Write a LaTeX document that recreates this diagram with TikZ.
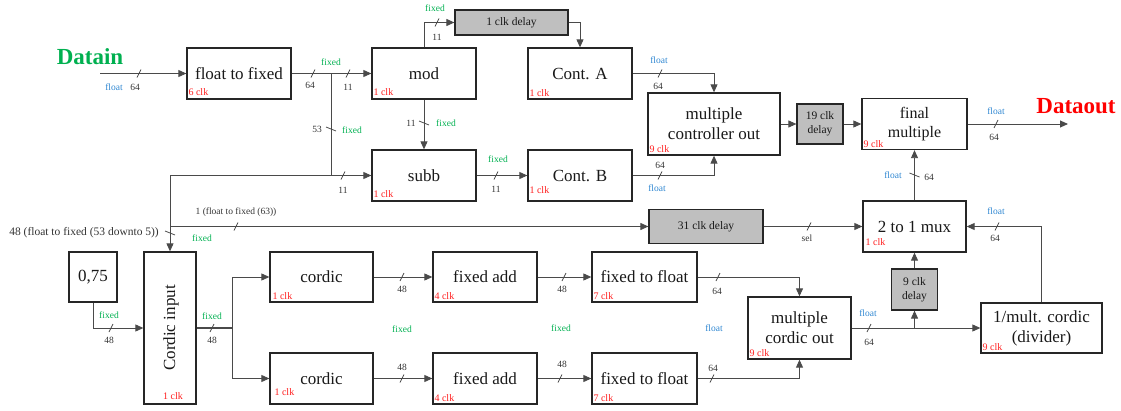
\documentclass[tikz,border=0pt]{standalone}
\usepackage{fontspec}
\setmainfont{Liberation Serif}
\usetikzlibrary{arrows.meta,calc}
\definecolor{fgreen}{HTML}{00B050}
\definecolor{fblue}{HTML}{2E86D1}
\definecolor{fred}{HTML}{FF1F1F}
\definecolor{lin}{HTML}{4A4A4A}
\begin{document}
\begin{tikzpicture}[x=1pt,y=-1pt,
  box/.style={draw=black!85, line width=1.3pt, fill=white, inner sep=0pt, align=center,
    font=\fontsize{17}{20}\selectfont, text=black!90},
  dbox/.style={box, fill=gray!50, line width=1.2pt, font=\fontsize{11.5}{14}\selectfont},
  conn/.style={draw=lin, line width=0.9pt},
  arr/.style={conn, -{Triangle[length=8pt,width=7pt]}},
  lbl/.style={font=\fontsize{9.5}{11}\selectfont, inner sep=0pt, text=black!80},
  fx/.style={lbl, text=fgreen},
  fl/.style={lbl, text=fblue},
  clk/.style={font=\fontsize{10}{12}\selectfont, text=fred, inner sep=0pt, anchor=base west},
  hs/.pic={\draw[lin, line width=0.8pt] (-2,4) -- (2,-4);},
  vs/.pic={\draw[lin, line width=0.8pt] (-5,-2) -- (5,2);}
]
\useasboundingbox (0,0) rectangle (1121,410);

% boxes
\node[box, minimum width=104pt, minimum height=51pt] (f2f) at (239,73.5) {float to fixed};
\node[box, minimum width=104pt, minimum height=51pt] (mod) at (424,73.5) {mod};
\node[box, minimum width=104pt, minimum height=51pt] (subb) at (424,175.5) {subb};
\node[box, minimum width=104pt, minimum height=51pt] (contA) at (580,73.5) {Cont. A};
\node[box, minimum width=104pt, minimum height=51pt] (contB) at (580,175.5) {Cont. B};
\node[dbox, minimum width=113pt, minimum height=25pt] (d1) at (511.5,22.5) {1 clk delay};
\node[box, minimum width=132pt, minimum height=62pt] (mco) at (714,124) {multiple\\controller out};
\node[dbox, minimum width=46pt, minimum height=40pt] (d19) at (820,124) {19 clk\\delay};
\node[box, minimum width=105pt, minimum height=51pt, font=\fontsize{16}{19}\selectfont] (fm) at (914.5,124) {final\\multiple};
\node[box, minimum width=103pt, minimum height=51pt] (mux) at (914.5,226.5) {2 to 1 mux};
\node[dbox, minimum width=114pt, minimum height=34pt] (d31) at (706,226.5) {31 clk delay};
\node[box, minimum width=52pt, minimum height=152pt] (ci) at (170,328) {};
\node[rotate=90, inner sep=0pt, font=\fontsize{17}{20}\selectfont, text=black!90] (citxt) at (171,328) {Cordic input};
\node[box, minimum width=48pt, minimum height=50pt] (c075) at (93,277) {0,75};
\node[box, minimum width=103pt, minimum height=50pt] (cor1) at (321.5,277) {cordic};
\node[box, minimum width=103pt, minimum height=51pt] (cor2) at (321.5,378.5) {cordic};
\node[box, minimum width=104pt, minimum height=50pt] (fa1) at (485,277) {fixed add};
\node[box, minimum width=104pt, minimum height=51pt] (fa2) at (485,378.5) {fixed add};
\node[box, minimum width=105pt, minimum height=50pt] (ff1) at (644.5,277) {fixed to float};
\node[box, minimum width=105pt, minimum height=51pt] (ff2) at (644.5,378.5) {fixed to float};
\node[box, minimum width=103pt, minimum height=62pt] (mcoc) at (799.5,328) {multiple\\cordic out};
\node[dbox, minimum width=46pt, minimum height=41pt] (d9) at (914.5,289.5) {9 clk\\delay};
\node[box, minimum width=121pt, minimum height=50pt] (div) at (1041.5,328) {1/mult. cordic\\(divider)};

% clk labels
\node[clk] (k1) at ($(f2f.south west)+(2,-4)$) {6 clk};
\node[clk] (k2) at ($(mod.south west)+(2,-4)$) {1 clk};
\node[clk] (k3) at ($(subb.south west)+(2,-4)$) {1 clk};
\node[clk] (k4) at ($(contA.south west)+(2,-3)$) {1 clk};
\node[clk] (k5) at ($(contB.south west)+(2,-8)$) {1 clk};
\node[clk] (k6) at ($(mco.south west)+(2,-3)$) {9 clk};
\node[clk] (k7) at ($(fm.south west)+(2,-3)$) {9 clk};
\node[clk] (k8) at ($(mux.south west)+(3,-7)$) {1 clk};
\node[clk, anchor=base] (k9) at ($(ci.south)+(3,-5)$) {1 clk};
\node[clk] (k10) at ($(cor1.south west)+(3,-3)$) {1 clk};
\node[clk] (k11) at ($(cor2.south west)+(5,-9)$) {1 clk};
\node[clk] (k12) at ($(fa1.south west)+(2,-3)$) {4 clk};
\node[clk] (k13) at ($(fa2.south west)+(2,-3)$) {4 clk};
\node[clk] (k14) at ($(ff1.south west)+(2,-3)$) {7 clk};
\node[clk] (k15) at ($(ff2.south west)+(2,-3)$) {7 clk};
\node[clk] (k16) at ($(mcoc.south west)+(2,-3)$) {9 clk};
\node[clk] (k17) at ($(div.south west)+(2,-3)$) {9 clk};

% titles
\node[inner sep=0pt, font=\fontsize{23}{26}\selectfont\bfseries, text=fgreen] (datain) at (90,57) {Datain};
\node[inner sep=0pt, font=\fontsize{23}{26}\selectfont\bfseries, text=red] (dataout) at (1076,106) {Dataout};

% connectors
\coordinate (in) at (100,73.5);
\coordinate (out) at (1068,124);
\coordinate (b1) at (331,73.5);
\coordinate (b2) at (b1 |- subb.west);
\coordinate (b3) at (ci.north |- d31.west);
\coordinate (b4) at (d9.south |- mcoc.east);
\coordinate (b5) at (232,328);

\draw[arr] (in) -- (f2f.west);
\draw[conn, line width=1.3pt] (f2f.east) -- (b1);
\draw[arr] (f2f.east) -- (mod.west);
\draw[arr] (b1) |- (subb.west);
\draw[arr] (b2) -| (ci.north);
\draw[arr] (b3) -- (d31.west);
\draw[arr] (mod.north) |- (d1.west);
\draw[arr] (d1.east) -| (contA.north);
\draw[arr] (mod.south) -- (subb.north);
\draw[arr] (subb.east) -- (contB.west);
\draw[arr] (contA.east) -| (mco.north);
\draw[arr] (contB.east) -| (mco.south);
\draw[arr] (mco.east) -- (d19.west);
\draw[arr] (d19.east) -- (fm.west);
\draw[arr] (fm.east) -- (out);
\draw[arr] (mux.north) -- (fm.south);
\draw[arr] (d31.east) -- (mux.west);
\draw[arr] (div.north) |- (mux.east);
\draw[arr] (d9.north) -- (mux.south);
\draw[arr] (mcoc.east) -- (div.west);
\draw[arr] (b4) -- (d9.south);
\draw[arr] (c075.south) |- (ci.west);
\draw[conn, line width=1.3pt] (ci.east) -- (b5);
\draw[arr] (b5) |- (cor1.west);
\draw[arr] (b5) |- (cor2.west);
\draw[arr] (cor1.east) -- (fa1.west);
\draw[arr] (fa1.east) -- (ff1.west);
\draw[arr] (cor2.east) -- (fa2.west);
\draw[arr] (fa2.east) -- (ff2.west);
\draw[arr] (ff1.east) -| (mcoc.north);
\draw[arr] (ff2.east) -| (mcoc.south);

% bus slashes
\foreach \p in {(139,73.5),(313,73.5),(348,73.5),(343,175.5),(437,22.5),(496,175.5),
  (660,73.5),(660,175.5),(996,124),(236,226.5),(809,226.5),(997,226.5),(111,328),(212,328),
  (402,277),(564,277),(718,277),(402,378.5),(560,378.5),(712,378.5),(869,328)}
  \pic at \p {hs};
\foreach \p in {(331,129),(424,123),(914.5,175),(170,233)}
  \pic at \p {vs};

% labels
\node[fl] (t1) at (114,87) {float};
\node[lbl] (t2) at (135,87) {64};
\node[fx] (t3) at (331,62) {fixed};
\node[lbl] (t4) at (310,85) {64};
\node[lbl] (t5) at (348,87) {11};
\node[lbl] (t6) at (317,129) {53};
\node[fx] (t7) at (352,130) {fixed};
\node[lbl] (t8) at (343,190) {11};
\node[fx] (t9) at (435,8) {fixed};
\node[lbl] (t10) at (437,37) {11};
\node[lbl] (t11) at (411,123) {11};
\node[fx] (t12) at (446,123) {fixed};
\node[fx] (t13) at (498,159) {fixed};
\node[lbl] (t14) at (496,189) {11};
\node[fl] (t15) at (659,60) {float};
\node[lbl] (t16) at (658,86) {64};
\node[lbl] (t17) at (660,165) {64};
\node[fl] (t18) at (657,188) {float};
\node[fl] (t19) at (996,111) {float};
\node[lbl] (t20) at (994,137) {64};
\node[fl] (t21) at (893,175) {float};
\node[lbl] (t22) at (929,177) {64};
\node[lbl] (t23) at (236,212) {1 (float to fixed (63))};
\node[fx] (t24) at (202,238) {fixed};
\node[lbl, anchor=east, font=\fontsize{11.5}{13}\selectfont] (t25) at (159,233) {48 (float to fixed (53 downto 5))};
\node[lbl] (t26) at (807,238) {sel};
\node[fl] (t27) at (996,211) {float};
\node[lbl] (t28) at (995,238) {64};
\node[fx] (t29) at (109,315) {fixed};
\node[lbl] (t30) at (109,340) {48};
\node[fx] (t31) at (212,316) {fixed};
\node[lbl] (t32) at (212,340) {48};
\node[lbl] (t33) at (402,289) {48};
\node[lbl] (t34) at (562,289) {48};
\node[lbl] (t35) at (717,291) {64};
\node[lbl] (t36) at (402,367) {48};
\node[lbl] (t37) at (562,364) {48};
\node[lbl] (t38) at (713,368) {64};
\node[fx] (t39) at (402,329) {fixed};
\node[fx] (t40) at (561,328) {fixed};
\node[fl] (t41) at (714,328) {float};
\node[fl] (t42) at (868,313) {float};
\node[lbl] (t43) at (869,342) {64};
\end{tikzpicture}
\end{document}
